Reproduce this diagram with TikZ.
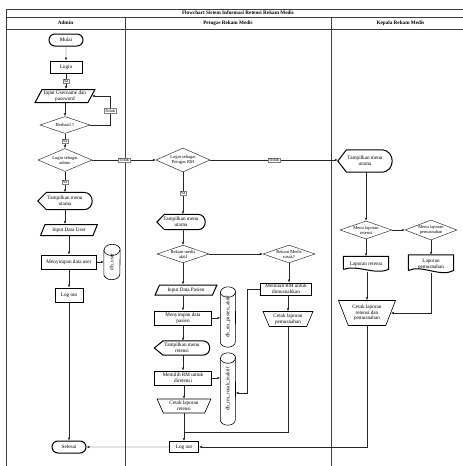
\documentclass[tikz,border=0pt]{standalone}
\usepackage{fontspec}
\setmainfont{Liberation Serif}
\usepackage{graphicx}
\usetikzlibrary{shapes.geometric,shapes.misc,arrows.meta,calc}

\tikzset{
 txt/.style={font=\fontsize{5.2}{5.7}\selectfont, align=center, inner sep=0.5pt},
 thk/.style={draw=black, line width=1pt},
 thn/.style={draw=black!85, line width=0.45pt},
 med/.style={draw=black, line width=0.6pt},
 term/.style={txt, thk, rounded rectangle, minimum width=35, minimum height=12},
 proc/.style={txt, thk, rectangle, minimum height=13},
 io/.style={txt, thk, trapezium, trapezium left angle=60, trapezium right angle=120, trapezium stretches=true},
 dec/.style={txt, font=\fontsize{4.5}{5}\selectfont, thn, diamond, aspect=2.6, inner sep=0pt},
 manop/.style={txt, med, trapezium, trapezium left angle=115, trapezium right angle=115, trapezium stretches=true, inner sep=0pt},
 arr/.style={draw=black!85, line width=0.45pt, -{Latex[length=2.8pt,width=2.4pt]}},
 ln/.style={draw=black!85, line width=0.45pt},
 lab/.style={font=\fontsize{4.4}{5}\selectfont, fill=white, draw=black!50, line width=0.3pt, inner sep=0.7pt},
 frame/.style={draw=black!75, line width=0.7pt},
 head/.style={font=\fontsize{5.2}{6}\selectfont\bfseries, inner sep=0pt},
}

% display shape: name, x, y, width, height, text
\newcommand\dispnode[6]{%
  \node[txt, minimum width=#4, minimum height=#5, inner sep=0pt] (#1) at (#2,-#3) {#6};
  \draw[thk] (#1.west) -- ([xshift={0.16*#4}]#1.north west) -- ([xshift={-0.5*#5}]#1.north east)
    .. controls ([xshift={#5/6}]#1.north east) and ([xshift={#5/6}]#1.south east) .. ([xshift={-0.5*#5}]#1.south east)
    -- ([xshift={0.16*#4}]#1.south west) -- cycle;
}
% document shape
\newcommand\docnode[6]{%
  \node[txt, minimum width=#4, minimum height=#5, inner sep=0pt] (#1) at (#2,-#3) {#6};
  \draw[thk] ([yshift={0.15*#5}]#1.south west) -- (#1.north west) -- (#1.north east) -- ([yshift={0.15*#5}]#1.south east)
    .. controls ([xshift={-0.3*#4},yshift={-0.25*#5}]#1.south east) and ([xshift={0.3*#4},yshift={0.5*#5}]#1.south west) .. ([yshift={0.15*#5}]#1.south west);
}
% cylinder (database)
\newcommand\cylnode[6]{%
  \node[txt, minimum width=#4, minimum height=#5, inner sep=0pt] (#1) at (#2,-#3) {\rotatebox{90}{#6}};
  \draw[med] ([yshift={-0.35*#4}]#1.north west) -- ([yshift={0.35*#4}]#1.south west)
    arc[start angle=180, end angle=360, x radius={0.5*#4}, y radius={0.35*#4}]
    -- ([yshift={-0.35*#4}]#1.north east)
    arc[start angle=0, end angle=180, x radius={0.5*#4}, y radius={0.35*#4}] -- cycle;
  \draw[med] ([yshift={-0.35*#4}]#1.north west) arc[start angle=180, end angle=360, x radius={0.5*#4}, y radius={0.35*#4}];
}

\begin{document}
\begin{tikzpicture}[x=1pt, y=1pt]
\useasboundingbox (0,0) rectangle (463,-466);
\clip (0,0) rectangle (463,-466);
\fill[white] (0,0) rectangle (463,-466);

% ---- swimlane frame ----
\draw[frame] (6,-9) -- (480,-9);
\draw[frame] (6,-17) -- (480,-17);
\draw[frame] (6,-29) -- (480,-29);
\draw[frame] (6,-9) -- (6,-480);
\draw[frame] (125,-17) -- (125,-480);
\draw[frame] (331,-17) -- (331,-480);
\draw[frame] (470,-9) -- (470,-480);

\node[head] (title) at (238,-13) {Flowchart Sistem Informasi Retensi Rekam Medis};
\node[head] (hadmin) at (65.5,-23) {Admin};
\node[head] (hpetugas) at (228,-23) {Petugas Rekam Medis};
\node[head] (hkepala) at (400.5,-23) {Kepala Rekam Medis};

% ---- Admin lane ----
\node[term] (mulai) at (66,-40) {Mulai};
\node[proc, minimum width=32, minimum height=12] (login) at (66,-67) {Login};
\node[io, minimum width=60, minimum height=13] (input1) at (65,-96) {Input Username dan\\password};
\node[dec, minimum width=50, minimum height=17] (berhasil) at (65,-125) {Berhasil ?};
\node[dec, minimum width=54, minimum height=23] (adm) at (65,-160) {Login sebagai\\admin};
\dispnode{tmu1}{65}{201}{54}{17}{Tampilkan menu\\utama}
\node[io, minimum width=57, minimum height=11] (inuser) at (69,-230) {Input Data User};
\node[proc, minimum width=55, minimum height=14] (simpanu) at (69,-262) {Menyimpan data user};
\cylnode{dbuser}{112}{262}{16}{35}{db\_user}
\node[proc, minimum width=28, minimum height=14] (logout1) at (69,-295) {Log out};
\node[term] (selesai) at (69,-447) {Selesai};

% ---- Petugas lane ----
\node[dec, minimum width=54, minimum height=24] (ptg) at (183,-160) {Login sebagai\\Petugas RM};
\dispnode{tmu2}{181}{222}{48}{15}{Tampilkan menu\\utama}
\node[dec, minimum width=52, minimum height=17] (aktif) at (183,-254) {Rekam medis\\aktif};
\node[dec, minimum width=52, minimum height=17] (rusak) at (289,-254) {Rekam Medis\\rusak?};
\node[io, minimum width=62, minimum height=10] (inpas) at (186,-290) {Input Data Pasien};
\node[proc, minimum width=57, minimum height=14] (simpanp) at (183,-318) {Menyimpan data\\pasien};
\cylnode{dbaktif}{228}{317}{15}{60}{db\_rm\_pasien\_aktif}
\dispnode{tmr}{182}{348}{55}{14}{Tampilkan menu\\retensi}
\node[proc, minimum width=57, minimum height=14] (pilih) at (183,-378) {Memilih RM untuk\\diretensi};
\cylnode{dbinak}{228}{389}{15}{72}{db\_rm\_rusak\_inaktif}
\node[manop, minimum width=54, minimum height=14] (cetakret) at (184,-406) {Cetak laporan\\retensi};
\node[proc, minimum width=29, minimum height=11] (logout2) at (184,-447) {Log out};
\node[proc, minimum width=51, minimum height=12] (pilah) at (286,-289) {Memilah RM untuk\\dimusnahkan};
\node[manop, minimum width=50, minimum height=15] (cetakmus) at (288,-319) {Cetak laporan\\pemusnahan};
\coordinate (jn) at (184,-432);

% ---- Kepala lane ----
\dispnode{tmu3}{365}{161}{54}{22}{Tampilkan menu\\utama}
\node[dec, minimum width=52, minimum height=18] (mlr) at (366,-230) {Menu laporan\\retensi};
\node[dec, minimum width=52, minimum height=20] (mlp) at (431,-230) {Menu laporan\\pemusnahan};
\docnode{lr}{366}{264}{45}{15}{Laporan retensi}
\docnode{lp}{431}{264}{45}{18}{Laporan\\pemusnahan}
\node[manop, minimum width=57, minimum height=25] (cetakkep) at (367,-313) {Cetak laporan\\retensi dan\\pemusnahan};

% ---- connectors: Admin ----
\draw[arr] (mulai) -- (login);
\draw[arr] (login.south) -- node[lab]{Ya} (login.south |- input1.north);
\draw[arr] (input1.south) -- (input1.south |- berhasil.north);
\draw[arr] (berhasil.east) -| node[lab, pos=0.75]{Tidak} ([xshift=18]input1.east) -- (input1.east);
\draw[arr] (berhasil) -- node[lab]{Ya} (adm);
\draw[arr] (adm) -- node[lab]{Tidak} (adm -| ptg.west);
\draw[arr] (adm) -- node[lab]{Ya} (tmu1);
\draw[arr] (tmu1.south) -- (tmu1.south |- inuser.north);
\draw[arr] (inuser.south -| simpanu.north) -- (simpanu.north);
\draw[arr] (simpanu) -- (dbuser);
\draw[arr] (simpanu) -- (logout1);
\draw[arr] (logout1) -- (selesai);

% ---- connectors: Petugas ----
\draw[arr] (ptg.south) -- node[lab]{Ya} (ptg.south |- tmu2.north);
\draw[arr] (ptg.east) -- node[lab]{Tidak} (ptg.east -| tmu3.west);
\draw[arr] (tmu2.south -| aktif.north) -- (aktif.north);
\draw[arr] (aktif) -- (rusak);
\draw[arr] (aktif.south) -- (aktif.south |- inpas.north);
\draw[arr] (inpas.south -| simpanp.north) -- (simpanp.north);
\draw[arr] (simpanp) -- (simpanp -| dbaktif.west);
\draw[arr] (simpanp.south) -- (simpanp.south |- tmr.north);
\draw[arr] (tmr.south -| pilih.north) -- (pilih.north);
\draw[arr] (pilih) -- (pilih -| dbinak.west);
\draw[arr] (pilih.south -| cetakret.north) -- (cetakret.north);
\draw[arr] (cetakret.south) -- (cetakret.south |- logout2.north);
\draw[arr] (rusak.south) -- (rusak.south |- pilah.north);
\draw[arr] (pilah.south -| cetakmus.north) -- (cetakmus.north);
\draw[arr] (pilah.west) -- ++(-13,0) |- ([yshift=-4]dbinak.east);
\draw[ln] (cetakmus.south) |- (jn);
\draw[arr] (logout2) -- (selesai);

% ---- connectors: Kepala ----
\draw[arr] (tmu3.south -| mlr.north) -- (mlr.north);
\draw[arr] (mlr) -- (mlp);
\draw[arr] (mlr.south) -- (mlr.south |- lr.north);
\draw[arr] (mlp.south) -- (mlp.south |- lp.north);
\draw[arr] (lr.south -| cetakkep.north) -- (cetakkep.north);
\draw[arr] (lp.south) |- (cetakkep.east);
\draw[arr] (cetakkep.south) |- (logout2.east);
\end{tikzpicture}
\end{document}
